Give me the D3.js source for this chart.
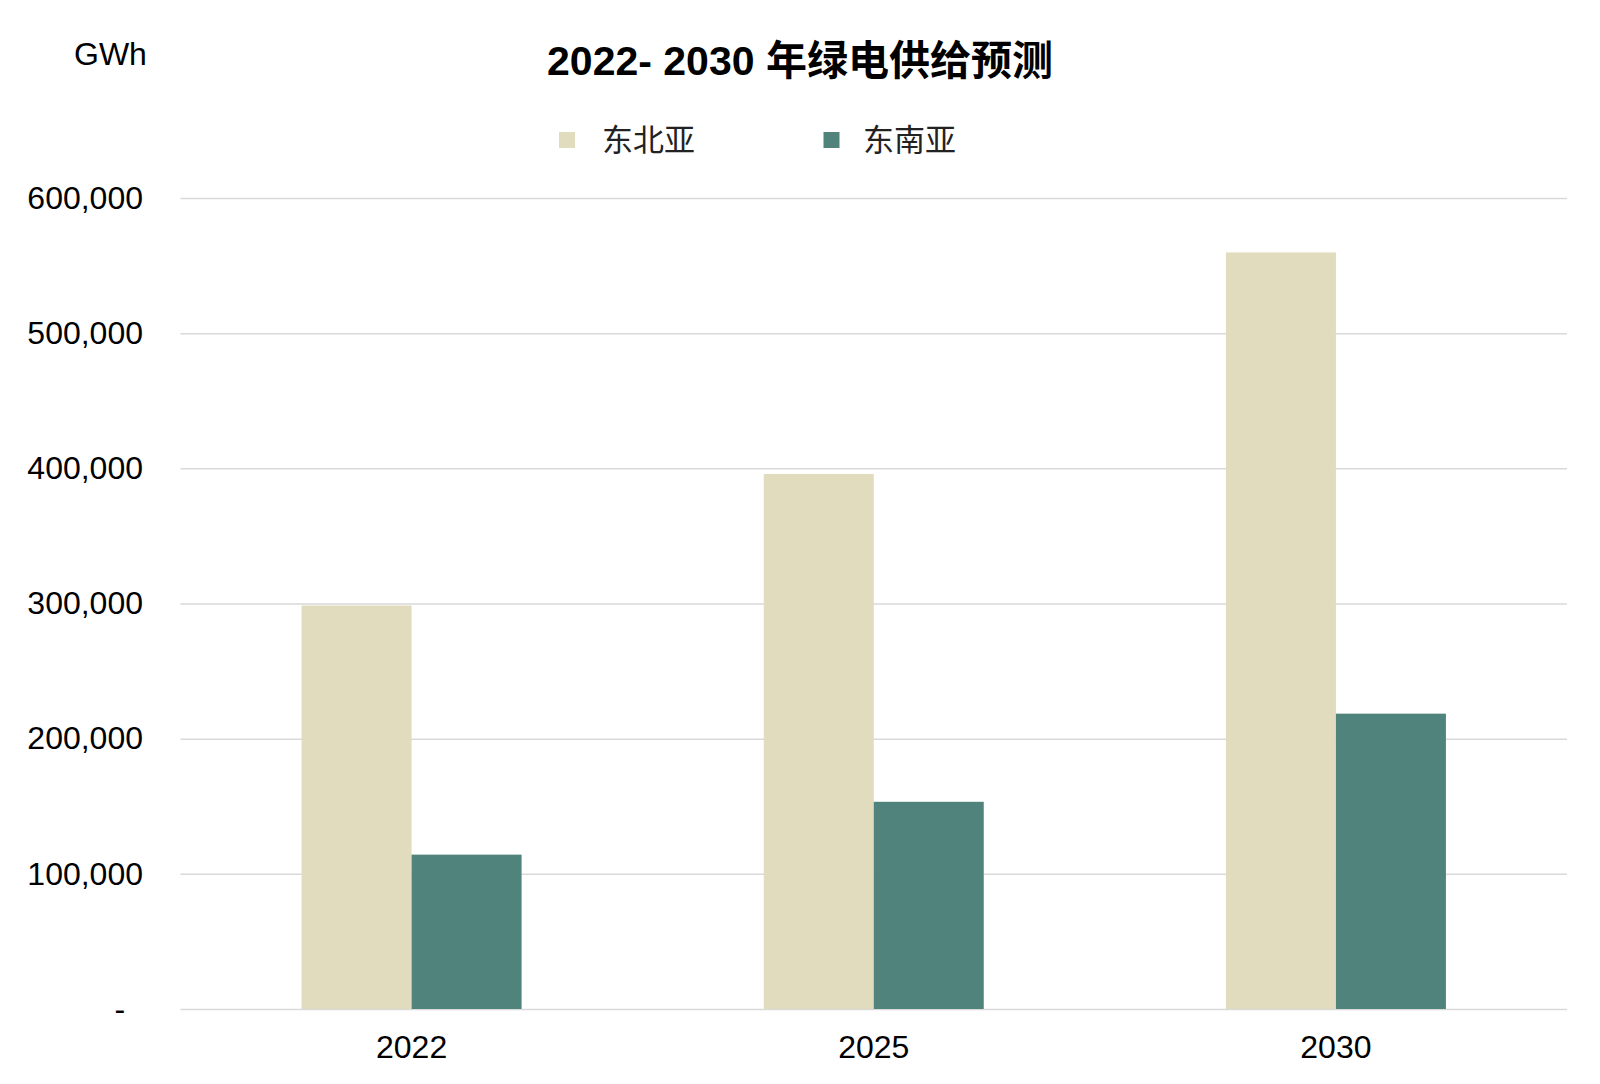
<!DOCTYPE html>
<html>
<head>
<meta charset="utf-8">
<script src="https://cdn.jsdelivr.net/npm/d3@7"></script>
<style>
  html, body { margin: 0; padding: 0; background: #fff; }
  svg { display: block; }
  text { font-family: "Liberation Sans", Arial, "Noto Sans CJK SC", sans-serif; fill: #000; }
</style>
</head>
<body>
<svg id="chart" width="1600" height="1084"></svg>
<script>
// ---- data ----
const categories = ["2022", "2025", "2030"];
const seriesNames = ["东北亚", "东南亚"];
const seriesColors = ["#E0DCBD", "#4F837B"];
const northeastAsia = [298500, 395800, 559700];
const southeastAsia = [114200, 153300, 218500];
const yTicks = [0, 100000, 200000, 300000, 400000, 500000, 600000];
const titleText = "2022- 2030 年绿电供给预测";
const unitText = "GWh";

const seriesValues = [northeastAsia, southeastAsia];
const rows = categories.map((c, i) => ({ cat: c, vals: seriesValues.map(s => s[i]) }));

// ---- layout ----
const svg = d3.select("#chart");
const plotLeft = 180.5, plotRight = 1567, plotTop = 198, plotBottom = 1009;
const labelFont = '"Liberation Sans", Arial, sans-serif';

const y = d3.scaleLinear().domain([0, 600000]).range([plotBottom, plotTop]);
const x = d3.scaleBand().domain(categories).range([plotLeft, plotRight])
  .paddingInner(0.524).paddingOuter(0.262);
const xs = d3.scaleBand().domain(seriesNames).range([0, x.bandwidth()]).padding(0);

// gridlines
const grid = svg.append("g")
  .attr("transform", `translate(${plotRight},0)`)
  .call(d3.axisRight(y).tickValues(yTicks).tickSize(-(plotRight - plotLeft)).tickFormat(""));
grid.select(".domain").remove();
grid.selectAll("line").attr("stroke", "#d9d9d9").attr("stroke-width", 1.5);

// y labels
const fmt = d3.format(",");
const yAxis = svg.append("g")
  .attr("transform", `translate(143,0)`)
  .call(d3.axisLeft(y).tickValues(yTicks).tickSize(0).tickPadding(0)
    .tickFormat(d => d === 0 ? "-  " : fmt(d)));
yAxis.select(".domain").remove();
yAxis.selectAll("text")
  .style("font-family", labelFont)
  .style("font-size", "32px").style("white-space", "pre").attr("fill", "#000");

// bars
const groups = svg.append("g").selectAll("g").data(rows).join("g")
  .attr("transform", d => `translate(${x(d.cat)},0)`);
groups.selectAll("rect")
  .data(d => d.vals.map((v, i) => ({ key: seriesNames[i], v, color: seriesColors[i] })))
  .join("rect")
  .attr("x", d => xs(d.key))
  .attr("width", xs.bandwidth())
  .attr("y", d => y(d.v))
  .attr("height", d => y(0) - y(d.v))
  .attr("fill", d => d.color);

// x labels
const xAxis = svg.append("g")
  .attr("transform", `translate(0,${plotBottom})`)
  .call(d3.axisBottom(x).tickSize(0).tickPadding(26));
xAxis.select(".domain").remove();
xAxis.selectAll("text")
  .style("font-family", labelFont)
  .style("font-size", "32px").attr("fill", "#000");

// title
svg.append("text")
  .attr("x", 800).attr("y", 75)
  .attr("text-anchor", "middle")
  .style("font-size", "41px").style("font-weight", "bold")
  .text(titleText);

// unit
svg.append("text")
  .attr("x", 74).attr("y", 65)
  .style("font-family", labelFont)
  .style("font-size", "32px")
  .text(unitText);

// legend
const legendSquareX = [559, 823.5];
const legendTextX = [602, 863];
const legend = svg.append("g").selectAll("g").data(seriesNames).join("g");
legend.append("rect")
  .attr("x", (d, i) => legendSquareX[i]).attr("y", 132).attr("width", 16).attr("height", 16)
  .attr("fill", (d, i) => seriesColors[i]);
legend.append("text")
  .attr("x", (d, i) => legendTextX[i]).attr("y", 151)
  .style("font-family", '"Noto Sans CJK SC", sans-serif')
  .style("font-size", "31px").style("fill", "#222")
  .text(d => d);
</script>
</body>
</html>
